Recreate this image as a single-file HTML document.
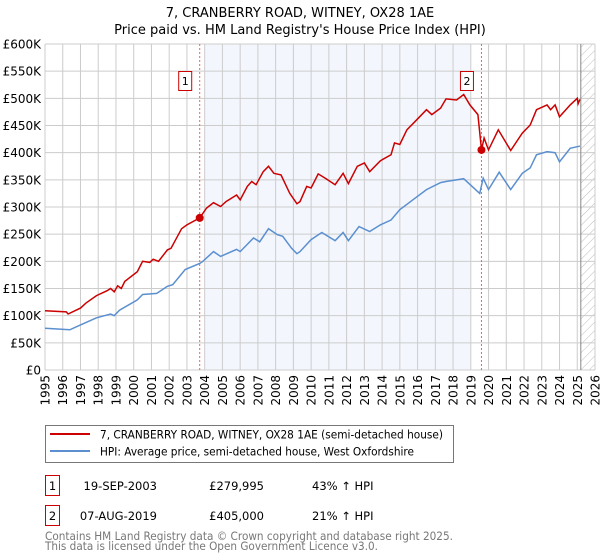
<!DOCTYPE html>
<html><head><meta charset="utf-8"><style>
body{margin:0;background:#fff;width:600px;height:560px;overflow:hidden}
svg{display:block;font-family:"DejaVu Sans","Liberation Sans",sans-serif}
</style></head><body>
<svg id="c" width="600" height="560">
<text x="300" y="17" text-anchor="middle" font-size="13">7, CRANBERRY ROAD, WITNEY, OX28 1AE</text>
<text x="300" y="34" text-anchor="middle" font-size="13">Price paid vs. HM Land Registry's House Price Index (HPI)</text>
<g id="plot"></g>
<g>
<rect x="45.5" y="425.5" width="408" height="37" fill="#fff" stroke="#777"/>
<line x1="50" y1="434" x2="90" y2="434" stroke="#cc0000" stroke-width="2"/>
<text x="100" y="438.5" font-size="11.5" textLength="343" lengthAdjust="spacingAndGlyphs">7, CRANBERRY ROAD, WITNEY, OX28 1AE (semi-detached house)</text>
<line x1="50" y1="451" x2="90" y2="451" stroke="#5b8fd0" stroke-width="2"/>
<text x="100" y="455.5" font-size="11.5" textLength="314" lengthAdjust="spacingAndGlyphs">HPI: Average price, semi-detached house, West Oxfordshire</text>
</g>
<g font-size="11.5">
<rect x="45.5" y="475.5" width="14" height="20" fill="#fff" stroke="#cc0000"/>
<text x="52.5" y="490" text-anchor="middle">1</text>
<text x="157" y="490" text-anchor="end">19-SEP-2003</text>
<text x="264" y="490" text-anchor="end">£279,995</text>
<text x="312" y="490">43% ↑ HPI</text>
<rect x="45.5" y="505.5" width="14" height="20" fill="#fff" stroke="#cc0000"/>
<text x="52.5" y="520" text-anchor="middle">2</text>
<text x="157" y="520" text-anchor="end">07-AUG-2019</text>
<text x="264" y="520" text-anchor="end">£405,000</text>
<text x="312" y="520">21% ↑ HPI</text>
</g>
<text x="45" y="540" font-size="11.5" fill="#777" textLength="408" lengthAdjust="spacingAndGlyphs">Contains HM Land Registry data © Crown copyright and database right 2025.</text>
<text x="45" y="550" font-size="11.5" fill="#777" textLength="333" lengthAdjust="spacingAndGlyphs">This data is licensed under the Open Government Licence v3.0.</text>
</svg>
<script>
const yTicks=[0,50,100,150,200,250,300,350,400,450,500,550,600];
const yTickLabels=["£0","£50K","£100K","£150K","£200K","£250K","£300K","£350K","£400K","£450K","£500K","£550K","£600K"];
const xYears=[1995,1996,1997,1998,1999,2000,2001,2002,2003,2004,2005,2006,2007,2008,2009,2010,2011,2012,2013,2014,2015,2016,2017,2018,2019,2020,2021,2022,2023,2024,2025,2026];
const propYears=[1995,1996.2,1996.3,1997,1997.3,1997.9,1998.5,1998.7,1998.9,1999.1,1999.3,1999.5,2000.2,2000.5,2000.9,2001.1,2001.4,2001.9,2002.1,2002.7,2003,2003.72,2004.1,2004.5,2004.9,2005.2,2005.8,2006,2006.4,2006.65,2006.9,2007.3,2007.6,2007.9,2008.3,2008.8,2009.2,2009.37,2009.75,2010,2010.4,2010.8,2011.35,2011.8,2012.1,2012.6,2013,2013.3,2013.9,2014.5,2014.7,2015,2015.4,2015.85,2016.5,2016.8,2017.3,2017.6,2018.2,2018.6,2018.95,2019.4,2019.6,2019.75,2020,2020.55,2021.25,2021.9,2022.35,2022.7,2023.3,2023.5,2023.75,2024,2024.6,2025,2025.05,2025.15];
const propValues=[109,107,103,114,123,137,146,150,144,155,150,163,181,200,198,204,200,221,224,260,267,280,298,308,301,310,322,313,338,347,341,365,375,362,359,325,306,310,338,335,361,353,341,362,343,375,381,365,385,396,418,415,442,457,479,470,482,499,497,507,488,470,405,427,405,442,404,436,451,479,488,479,488,466,488,500,490,498];
const hpiYears=[1995,1996.4,1997,1997.9,1998.7,1998.9,1999.2,2000.2,2000.5,2001.3,2001.9,2002.2,2002.9,2003.72,2003.9,2004.5,2004.9,2005.8,2006,2006.75,2007.1,2007.6,2008.1,2008.4,2008.9,2009.2,2009.37,2010,2010.6,2011.35,2011.8,2012.1,2012.7,2013.3,2013.9,2014.5,2015,2015.85,2016.5,2017.3,2017.6,2018.6,2019.5,2019.7,2020,2020.6,2021.25,2021.9,2022.35,2022.7,2023.3,2023.75,2024,2024.6,2025,2025.15];
const hpiValues=[77,74,83,96,103,100,110,129,139,141,154,157,185,196,200,218,209,222,218,243,236,260,249,246,224,214,218,240,253,238,253,238,264,255,267,276,295,316,332,345,347,352,325,353,332,364,332,362,372,396,402,400,383,408,411,412];
const saleYears=[2003.72,2019.6];
const saleValues=[279.995,405];
const saleLabels=["1","2"];
const NS="http://www.w3.org/2000/svg";
const L=45,R=595,T=44,B=370;
const X0=1995,X1=2026,Ymax=600;
function xs(y){return L+(y-X0)/(X1-X0)*(R-L);}
function ys(v){return B-v/Ymax*(B-T);}
const g=document.getElementById('plot');
function mk(t,a){const e=document.createElementNS(NS,t);for(const k in a)e.setAttribute(k,a[k]);g.appendChild(e);return e;}
let sh=mk('rect',{x:xs(2004),y:T,width:xs(2019)-xs(2004),height:B-T,fill:'#eef3fc',opacity:0.7});


const defs=document.createElementNS(NS,'defs');
defs.innerHTML='<pattern id="hatch" width="6" height="6" patternUnits="userSpaceOnUse" patternTransform="rotate(45)"><line x1="0" y1="0" x2="0" y2="6" stroke="#bbb" stroke-width="1"/></pattern>';
g.appendChild(defs);
let ht=mk('rect',{x:xs(2025.2),y:T,width:R-xs(2025.2),height:B-T,fill:'url(#hatch)'});


yTicks.forEach((v,i)=>{
 let ln=mk('line',{x1:L,x2:R,y1:ys(v),y2:ys(v),stroke:'#ccc','stroke-width':1});
 
 
 let t=mk('text',{x:L-4,y:ys(v)+4.5,'text-anchor':'end','font-size':12});
 t.textContent=yTickLabels[i];
 
 
});
xYears.forEach(yr=>{
 let ln=mk('line',{x1:xs(yr),x2:xs(yr),y1:T,y2:B,stroke:'#ccc','stroke-width':1});
 
 
 let t=mk('text',{x:0,y:0,'text-anchor':'end','font-size':12,transform:`translate(${xs(yr)+4.5},${B+5}) rotate(-90)`});
 t.textContent=yr;
 
 
});
let vl=mk('line',{x1:xs(2025.2),x2:xs(2025.2),y1:T,y2:B,stroke:'#888','stroke-width':1});


saleYears.forEach((yr,i)=>{
 let d=mk('line',{x1:xs(yr),x2:xs(yr),y1:T,y2:B,stroke:'#f06060','stroke-width':1,'stroke-dasharray':'2,2'});
 
 
 let bx=mk('rect',{x:xs(yr)-21,y:71.5,width:13,height:19,fill:'#fff',stroke:'#cc0000'});
 
 
 let t=mk('text',{x:xs(yr)-14.5,y:85,'text-anchor':'middle','font-size':11});
 t.textContent=saleLabels[i];
 
 
});
function path(xa,va){return xa.map((x,i)=>(i?'L':'M')+xs(x).toFixed(1)+','+ys(va[i]).toFixed(1)).join('');}
let hp=mk('path',{d:path(hpiYears,hpiValues),fill:'none',stroke:'#5b8fd0','stroke-width':1.5});


let pp=mk('path',{d:path(propYears,propValues),fill:'none',stroke:'#cc0000','stroke-width':1.5});


saleYears.forEach((yr,i)=>{
 let c=mk('circle',{cx:xs(yr),cy:ys(saleValues[i]),r:4,fill:'#cc0000'});
 
 
});
</script>
</body></html>
